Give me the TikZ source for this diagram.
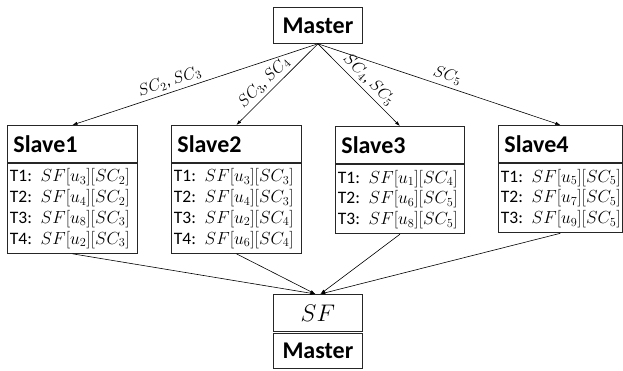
\RequirePackage{fix-cm}
\documentclass[tikz,border=0pt]{standalone}
\usepackage{fontspec}
\setmainfont{Carlito}
\usetikzlibrary{arrows.meta}
\newcommand{\task}[3]{\mbox{T#1: $SF[u_{#2}][SC_{#3}]$}}
\begin{document}
\begin{tikzpicture}[x=1pt,y=-1pt,
  box/.style={draw=black!85, line width=0.8pt, inner ysep=0pt},
  head/.style={box, anchor=north west, minimum height=37pt, text width=#1-12pt,
    inner xsep=6pt, align=left, font=\fontsize{24}{28}\selectfont\bfseries},
  body/.style={box, anchor=north west, text width=#1-5pt, inner xsep=2.5pt,
    align=left, font=\fontsize{17.5}{20.7}\selectfont},
  arr/.style={line width=0.6pt, -{Latex[length=5pt,width=3.5pt]}},
  lbl/.style={sloped, above, font=\fontsize{16.5}{18}\selectfont, inner sep=3.5pt}
]
\useasboundingbox (0,0) rectangle (623,371);

% master node at the top
\node[box, anchor=north west, minimum width=89pt, minimum height=36pt,
  inner xsep=0pt, font=\fontsize{24}{28}\selectfont\bfseries] (mtop) at (273,7) {Master};

% slave headers
\node[head=130pt] (h1) at (7,125) {Slave1};
\node[head=130pt] (h2) at (171,125) {Slave2};
\node[head=129pt] (h3) at (335,126) {Slave3};
\node[head=124pt] (h4) at (498,125) {Slave4};

% task lists
\node[body=130pt, minimum height=89.5pt] (b1) at (7,163.5)
  {\task13{2}\\\task24{2}\\\task38{3}\\\task42{3}};
\node[body=130pt, minimum height=89.5pt] (b2) at (171,163.5)
  {\task13{3}\\\task24{3}\\\task32{4}\\\task46{4}};
\node[body=129pt, minimum height=69pt] (b3) at (335,164.5)
  {\task11{4}\\\task26{5}\\\task38{5}};
\node[body=124pt, minimum height=69pt] (b4) at (498,163.5)
  {\task15{5}\\\task27{5}\\\task39{5}};

% collecting node at the bottom
\node[box, anchor=north west, minimum width=89pt, minimum height=37pt,
  inner xsep=0pt, font=\fontsize{24}{28}\selectfont] (sf) at (273,294) {$SF$};
\node[box, anchor=north west, minimum width=89pt, minimum height=35pt,
  inner xsep=0pt, font=\fontsize{24}{28}\selectfont\bfseries] (mbot) at (273,333) {Master};

\coordinate (inL) at ([xshift=-2.5pt]sf.north);
\coordinate (inR) at ([xshift=2.5pt]sf.north);

% distribution of sub-computations
\draw[arr] (mtop.south) -- node[lbl, pos=0.59] {$SC_2$, $SC_3$} (h1.north);
\draw[arr] (mtop.south) -- node[lbl, pos=0.57] {$SC_3$, $SC_4$} (h2.north);
\draw[arr] (mtop.south) -- node[lbl, pos=0.53] {$SC_4$, $SC_5$} (h3.north);
\draw[arr] (mtop.south) -- node[lbl, pos=0.52] {$SC_5$} (h4.north);

% results sent back
\draw[arr] (b1.south) -- (inL);
\draw[arr] (b2.south) -- (inL);
\draw[arr] (b3.south) -- (inR);
\draw[arr] (b4.south) -- (inR);
\end{tikzpicture}
\end{document}
